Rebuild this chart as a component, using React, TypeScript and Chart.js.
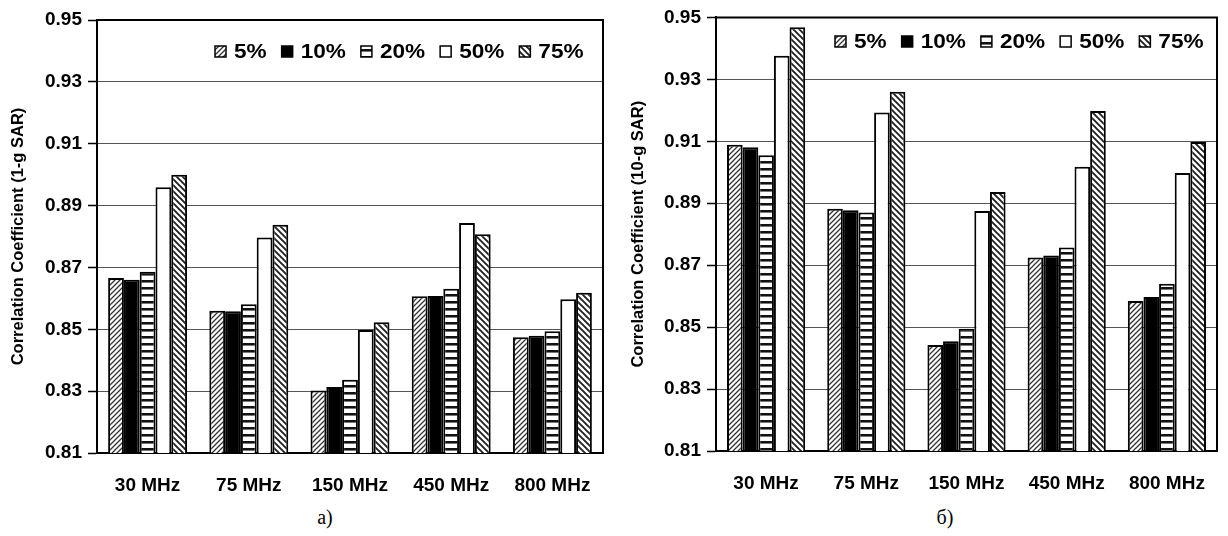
import React, { useEffect, useRef } from 'react';
import { Chart, registerables } from 'chart.js';

Chart.register(...registerables);

// ---- data ----
const categories = ['30 MHz', '75 MHz', '150 MHz', '450 MHz', '800 MHz'];
const seriesNames = ['5%', '10%', '20%', '50%', '75%'];
const yMin = 0.81;
const yMax = 0.95;
const yStep = 0.02;

// (a) 1-g SAR
const sar1g_5 = [0.8666, 0.856, 0.8302, 0.8607, 0.8474];
const sar1g_10 = [0.866, 0.8558, 0.8313, 0.8608, 0.8479];
const sar1g_20 = [0.8686, 0.8581, 0.8337, 0.8631, 0.8494];
const sar1g_50 = [0.8959, 0.8797, 0.8498, 0.8844, 0.8597];
const sar1g_75 = [0.9, 0.8838, 0.8523, 0.8807, 0.8618];

// (б) 10-g SAR
const sar10g_5 = [0.9089, 0.8882, 0.8442, 0.8725, 0.8584];
const sar10g_10 = [0.9081, 0.8877, 0.8454, 0.8731, 0.8597];
const sar10g_20 = [0.9055, 0.887, 0.8495, 0.8757, 0.864];
const sar10g_50 = [0.9376, 0.9193, 0.8875, 0.9018, 0.8998];
const sar10g_75 = [0.9468, 0.926, 0.8936, 0.9198, 0.9098];

const FONT = 'Arial, "Liberation Sans", sans-serif';

function makePattern(kind: string): CanvasPattern | string {
  if (kind === 'black') return '#000000';
  if (kind === 'white') return '#ffffff';
  const c = document.createElement('canvas');
  const ctx = c.getContext('2d')!;
  if (kind === 'fwd') {
    const s = 5;
    c.width = s; c.height = s;
    ctx.fillStyle = '#fff'; ctx.fillRect(0, 0, s, s);
    ctx.strokeStyle = '#333'; ctx.lineWidth = 1.3;
    ctx.beginPath();
    ctx.moveTo(-1, 1); ctx.lineTo(1, -1);
    ctx.moveTo(0, s); ctx.lineTo(s, 0);
    ctx.moveTo(s - 1, s + 1); ctx.lineTo(s + 1, s - 1);
    ctx.stroke();
  } else if (kind === 'back') {
    const s = 6;
    c.width = s; c.height = s;
    ctx.fillStyle = '#fff'; ctx.fillRect(0, 0, s, s);
    ctx.strokeStyle = '#222'; ctx.lineWidth = 1.9;
    ctx.beginPath();
    ctx.moveTo(-1, s - 1); ctx.lineTo(1, s + 1);
    ctx.moveTo(0, 0); ctx.lineTo(s, s);
    ctx.moveTo(s - 1, -1); ctx.lineTo(s + 1, 1);
    ctx.stroke();
  } else {
    c.width = 8; c.height = 7;
    ctx.fillStyle = '#fff'; ctx.fillRect(0, 0, 8, 7);
    ctx.fillStyle = '#111'; ctx.fillRect(0, 0, 8, 2);
    ctx.fillStyle = '#777'; ctx.fillRect(0, 2, 8, 1);
  }
  return ctx.createPattern(c, 'repeat')!;
}

const patternKinds = ['fwd', 'black', 'horiz', 'white', 'back'];

const framePlugin = {
  id: 'frame',
  afterDraw(chart: any) {
    const { ctx, chartArea } = chart;
    ctx.save();
    ctx.strokeStyle = '#000';
    ctx.lineWidth = 2;
    ctx.beginPath();
    ctx.moveTo(chartArea.left, chartArea.top);
    ctx.lineTo(chartArea.right, chartArea.top);
    ctx.lineTo(chartArea.right, chartArea.bottom);
    ctx.stroke();
    ctx.restore();
  },
};

const legendPlugin = {
  id: 'innerLegend',
  afterDraw(chart: any, _args: any, opts: any) {
    const { ctx } = chart;
    let x = opts.x;
    const y = opts.y;
    const box = 11;
    const sx = 1.13;
    ctx.save();
    ctx.font = `bold 20px ${FONT}`;
    ctx.textBaseline = 'middle';
    ctx.textAlign = 'left';
    chart.data.datasets.forEach((ds: any) => {
      ctx.fillStyle = ds.backgroundColor;
      ctx.fillRect(x, y - box / 2, box, box);
      ctx.strokeStyle = '#000';
      ctx.lineWidth = 1.5;
      ctx.strokeRect(x, y - box / 2, box, box);
      x += box + 8;
      ctx.fillStyle = '#000';
      ctx.save();
      ctx.translate(x, y + 1);
      ctx.scale(sx, 1);
      ctx.fillText(ds.label, 0, 0);
      ctx.restore();
      x += ctx.measureText(ds.label).width * sx + 15;
    });
    ctx.restore();
  },
};

function buildChart(
  canvas: HTMLCanvasElement,
  series: number[][],
  yTitle: string,
  yWidth: number,
  titlePad: number,
  topPad: number,
  legendX: number,
  legendY: number
) {
  const fills = patternKinds.map(makePattern);
  return new Chart(canvas, {
    type: 'bar',
    data: {
      labels: categories,
      datasets: series.map((vals, i) => ({
        label: seriesNames[i],
        data: vals,
        backgroundColor: fills[i] as any,
        borderColor: '#000',
        borderWidth: 2,
        categoryPercentage: 0.78,
        barPercentage: 1,
      })),
    },
    options: {
      animation: false,
      responsive: false,
      maintainAspectRatio: false,
      layout: { padding: { left: 0, right: 11, top: topPad, bottom: 0 } },
      plugins: {
        legend: { display: false },
        tooltip: { enabled: false },
        innerLegend: { x: legendX, y: legendY },
      } as any,
      scales: {
        x: {
          grid: { display: false, drawTicks: false },
          border: { color: '#000', width: 2 },
          ticks: {
            color: '#000',
            font: { family: FONT, size: 19, weight: 'bold' },
            padding: 21,
            maxRotation: 0,
          },
          afterFit: (s: any) => { s.height = 47; },
        },
        y: {
          min: yMin,
          max: yMax,
          ticks: {
            stepSize: yStep,
            color: '#000',
            font: { family: FONT, size: 19, weight: 'bold' },
            padding: 6,
            callback: (v: any) => Number(v).toFixed(2),
          },
          grid: {
            color: '#555',
            lineWidth: 1,
            tickColor: '#000',
            tickLength: 9,
            tickWidth: 1.5,
          },
          border: { color: '#000', width: 2 },
          title: {
            display: true,
            text: yTitle,
            color: '#000',
            font: { family: FONT, size: 16.5, weight: 'bold' },
            padding: { top: titlePad, bottom: 0 },
          },
          afterFit: (s: any) => { s.width = yWidth; },
        },
      },
    },
    plugins: [framePlugin, legendPlugin],
  } as any);
}

export default function App() {
  const leftRef = useRef<HTMLCanvasElement>(null);
  const rightRef = useRef<HTMLCanvasElement>(null);

  useEffect(() => {
    const a = buildChart(
      leftRef.current!,
      [sar1g_5, sar1g_10, sar1g_20, sar1g_50, sar1g_75],
      'Correlation Coefficient (1-g SAR)',
      97, 9, 20, 215, 51.5
    );
    const b = buildChart(
      rightRef.current!,
      [sar10g_5, sar10g_10, sar10g_20, sar10g_50, sar10g_75],
      'Correlation Coefficient (10-g SAR)',
      102, 15, 16, 221, 41.5
    );
    return () => { a.destroy(); b.destroy(); };
  }, []);

  const cap: React.CSSProperties = {
    position: 'absolute',
    top: 506,
    width: 60,
    textAlign: 'center',
    fontFamily: '"Times New Roman", "Liberation Serif", serif',
    fontSize: 20,
    color: '#000',
  };

  return (
    <div style={{ position: 'absolute', left: 0, top: 0, width: 1228, height: 536, background: '#fff', overflow: 'hidden' }}>
      <canvas ref={leftRef} width={614} height={500} style={{ position: 'absolute', left: 0, top: 0 }} />
      <canvas ref={rightRef} width={614} height={498} style={{ position: 'absolute', left: 614, top: 0 }} />
      <div style={{ ...cap, left: 325 - 30 }}>а)</div>
      <div style={{ ...cap, left: 945 - 30 }}>б)</div>
    </div>
  );
}
